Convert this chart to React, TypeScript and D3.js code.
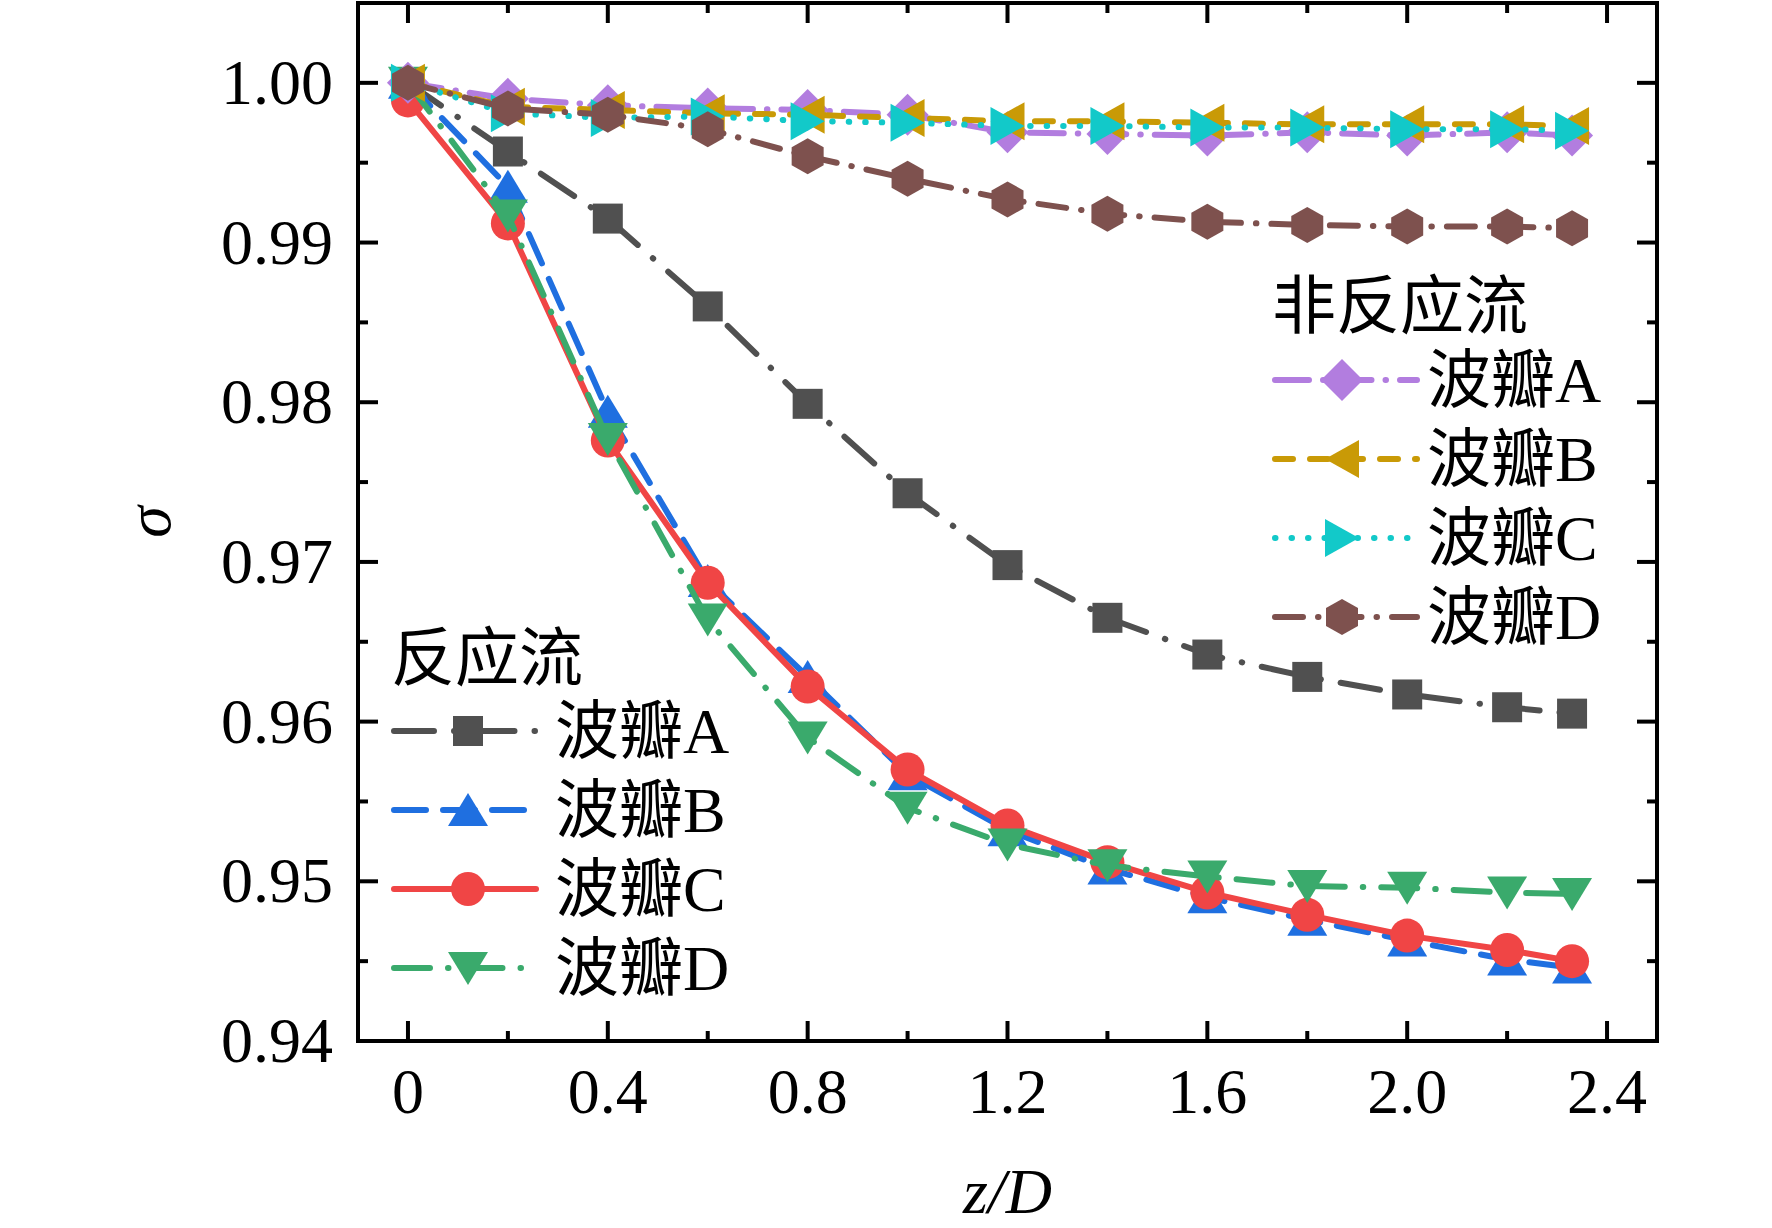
import { useEffect, useRef } from 'react';
import * as d3 from 'd3';

// z/D positions
const zD = [0, 0.2, 0.4, 0.6, 0.8, 1.0, 1.2, 1.4, 1.6, 1.8, 2.0, 2.2, 2.33];

// reacting flow
const reactA = [1.0, 0.9957, 0.9915, 0.986, 0.9799, 0.9743, 0.9698, 0.9665, 0.9642, 0.9628, 0.9617, 0.9609, 0.9605];
const reactB = [1.0, 0.9935, 0.9794, 0.9688, 0.9628, 0.9567, 0.9532, 0.9508, 0.949, 0.9476, 0.9463, 0.9451, 0.9446];
const reactC = [0.9989, 0.9912, 0.9776, 0.9687, 0.9622, 0.957, 0.9535, 0.9512, 0.9493, 0.9479, 0.9466, 0.9457, 0.945];
const reactD = [1.0, 0.9917, 0.9777, 0.9664, 0.959, 0.9546, 0.9523, 0.951, 0.9503, 0.9497, 0.9496, 0.9493, 0.9492];

// non-reacting flow
const coldA = [1.0, 0.999, 0.9986, 0.9984, 0.9983, 0.998, 0.9969, 0.9968, 0.9967, 0.9969, 0.9967, 0.9969, 0.9967];
const coldB = [1.0, 0.9985, 0.9983, 0.9981, 0.998, 0.9978, 0.9976, 0.9976, 0.9975, 0.9974, 0.9974, 0.9974, 0.9973];
const coldC = [1.0, 0.9981, 0.9978, 0.9979, 0.9976, 0.9975, 0.9973, 0.9973, 0.9972, 0.9972, 0.9971, 0.9971, 0.997];
const coldD = [1.0, 0.9984, 0.998, 0.9971, 0.9954, 0.994, 0.9927, 0.9918, 0.9913, 0.9911, 0.991, 0.991, 0.9909];

const xTicks = [0, 0.4, 0.8, 1.2, 1.6, 2.0, 2.4];
const xTickLabels = ['0', '0.4', '0.8', '1.2', '1.6', '2.0', '2.4'];
const xMinor = [0.2, 0.6, 1.0, 1.4, 1.8, 2.2];
const yTicks = [0.94, 0.95, 0.96, 0.97, 0.98, 0.99, 1.0];
const yMinor = [0.945, 0.955, 0.965, 0.975, 0.985, 0.995];

const lobeNames = ['波瓣A', '波瓣B', '波瓣C', '波瓣D'];

const reactSeries = [
  { values: reactA, color: '#505050', dash: '40,20,0.5,20', marker: 'square' },
  { values: reactB, color: '#1f6fe0', dash: '32,17', marker: 'up' },
  { values: reactC, color: '#f04545', dash: null, marker: 'circle' },
  { values: reactD, color: '#3aaa6c', dash: '36,18,0.5,18', marker: 'down' },
];
const coldSeries = [
  { values: coldA, color: '#b27ddf', dash: '34,14,0.5,14', marker: 'diamond' },
  { values: coldB, color: '#c99a06', dash: '18,17', marker: 'left' },
  { values: coldC, color: '#12c9c9', dash: '0.5,16', marker: 'right' },
  { values: coldD, color: '#7e514e', dash: '28,15,0.5,15', marker: 'hex' },
];

const markerPath = (type) => {
  switch (type) {
    case 'square': return 'M-15,-15H15V15H-15Z';
    case 'circle': return 'M17,0A17,17 0 1,1 -17,0A17,17 0 1,1 17,0Z';
    case 'up': return 'M0,-17L20,16L-20,16Z';
    case 'down': return 'M0,17L20,-16L-20,-16Z';
    case 'left': return 'M-17,0L17,-19L17,19Z';
    case 'right': return 'M17,0L-17,-19L-17,19Z';
    case 'diamond': return 'M0,-21L21,0L0,21L-21,0Z';
    case 'hex': return 'M0,-18L16,-9L16,9L0,18L-16,9L-16,-9Z';
    default: return '';
  }
};

const W = 1772;
const H = 1228;
const frame = { left: 358, right: 1657, top: 3, bottom: 1041 };
const serif = '"Liberation Serif", "Times New Roman", "Noto Sans CJK SC", serif';

const App = () => {
  const ref = useRef(null);

  useEffect(() => {
    const svg = d3.select(ref.current);
    svg.selectAll('*').remove();

    const x = d3.scaleLinear().domain([-0.1, 2.5]).range([frame.left, frame.right]);
    const y = d3.scaleLinear().domain([0.94, 1.005]).range([frame.bottom, frame.top]);

    const line = d3.line<number>()
      .x((d, i) => x(zD[i]))
      .y(d => y(d));

    const drawSeries = (s) => {
      svg.append('path')
        .attr('d', line(s.values))
        .attr('fill', 'none')
        .attr('stroke', s.color)
        .attr('stroke-width', 6)
        .attr('stroke-linecap', 'round')
        .attr('stroke-linejoin', 'round')
        .attr('stroke-dasharray', s.dash);
    };
    const drawMarkers = (s) => {
      svg.append('g').selectAll('path').data(s.values).enter().append('path')
        .attr('transform', (d, i) => `translate(${x(zD[i])},${y(d)})`)
        .attr('d', markerPath(s.marker))
        .attr('fill', s.color);
    };

    [...reactSeries, ...coldSeries].forEach(s => { drawSeries(s); drawMarkers(s); });

    // frame
    svg.append('rect')
      .attr('x', frame.left).attr('y', frame.top)
      .attr('width', frame.right - frame.left).attr('height', frame.bottom - frame.top)
      .attr('fill', 'none').attr('stroke', '#000').attr('stroke-width', 4);

    // ticks (inward, all four sides)
    const ticks = svg.append('g').attr('stroke', '#000').attr('stroke-width', 4);
    xTicks.forEach(t => {
      ticks.append('line').attr('x1', x(t)).attr('x2', x(t)).attr('y1', frame.bottom).attr('y2', frame.bottom - 20);
      ticks.append('line').attr('x1', x(t)).attr('x2', x(t)).attr('y1', frame.top).attr('y2', frame.top + 20);
    });
    xMinor.forEach(t => {
      ticks.append('line').attr('x1', x(t)).attr('x2', x(t)).attr('y1', frame.bottom).attr('y2', frame.bottom - 10);
      ticks.append('line').attr('x1', x(t)).attr('x2', x(t)).attr('y1', frame.top).attr('y2', frame.top + 10);
    });
    yTicks.forEach(t => {
      ticks.append('line').attr('y1', y(t)).attr('y2', y(t)).attr('x1', frame.left).attr('x2', frame.left + 20);
      ticks.append('line').attr('y1', y(t)).attr('y2', y(t)).attr('x1', frame.right).attr('x2', frame.right - 20);
    });
    yMinor.forEach(t => {
      ticks.append('line').attr('y1', y(t)).attr('y2', y(t)).attr('x1', frame.left).attr('x2', frame.left + 10);
      ticks.append('line').attr('y1', y(t)).attr('y2', y(t)).attr('x1', frame.right).attr('x2', frame.right - 10);
    });

    // tick labels
    svg.append('g').selectAll('text').data(xTicks).enter().append('text')
      .attr('x', d => x(d)).attr('y', 1113)
      .attr('text-anchor', 'middle')
      .attr('font-family', serif).attr('font-size', 64)
      .text((d, i) => xTickLabels[i]);
    svg.append('g').selectAll('text').data(yTicks).enter().append('text')
      .attr('x', 333).attr('y', d => y(d) + 21)
      .attr('text-anchor', 'end')
      .attr('font-family', serif).attr('font-size', 64)
      .text(d => d.toFixed(2));

    // axis titles
    svg.append('text')
      .attr('x', (frame.left + frame.right) / 2).attr('y', 1213)
      .attr('text-anchor', 'middle')
      .attr('font-family', serif).attr('font-size', 64).attr('font-style', 'italic')
      .text('z/D');
    svg.append('text')
      .attr('transform', `translate(170,${(frame.top + frame.bottom) / 2}) rotate(-90)`)
      .attr('text-anchor', 'middle')
      .attr('font-family', serif).attr('font-size', 64).attr('font-style', 'italic')
      .text('σ');

    // legends
    const drawLegend = (title, series, x0, titleY, rowY0, markX, textX) => {
      const g = svg.append('g');
      g.append('text')
        .attr('x', x0).attr('y', titleY)
        .attr('font-family', serif).attr('font-size', 64)
        .text(title);
      series.forEach((s, i) => {
        const cy = rowY0 + i * 79;
        g.append('line')
          .attr('x1', x0 + 3).attr('x2', x0 + 145).attr('y1', cy).attr('y2', cy)
          .attr('stroke', s.color).attr('stroke-width', 6)
          .attr('stroke-linecap', 'round')
          .attr('stroke-dasharray', s.dash);
        g.append('path')
          .attr('transform', `translate(${markX},${cy})`)
          .attr('d', markerPath(s.marker))
          .attr('fill', s.color);
        g.append('text')
          .attr('x', textX).attr('y', cy + 22)
          .attr('font-family', serif).attr('font-size', 64)
          .text(lobeNames[i]);
      });
    };
    drawLegend('反应流', reactSeries, 391, 680, 731, 468, 555);
    drawLegend('非反应流', coldSeries, 1272, 328, 380, 1342, 1427);
  }, []);

  return (
    <svg ref={ref} width={W} height={H} style={{ position: 'absolute', left: 0, top: 0, background: '#fff' }} />
  );
};

export default App;
